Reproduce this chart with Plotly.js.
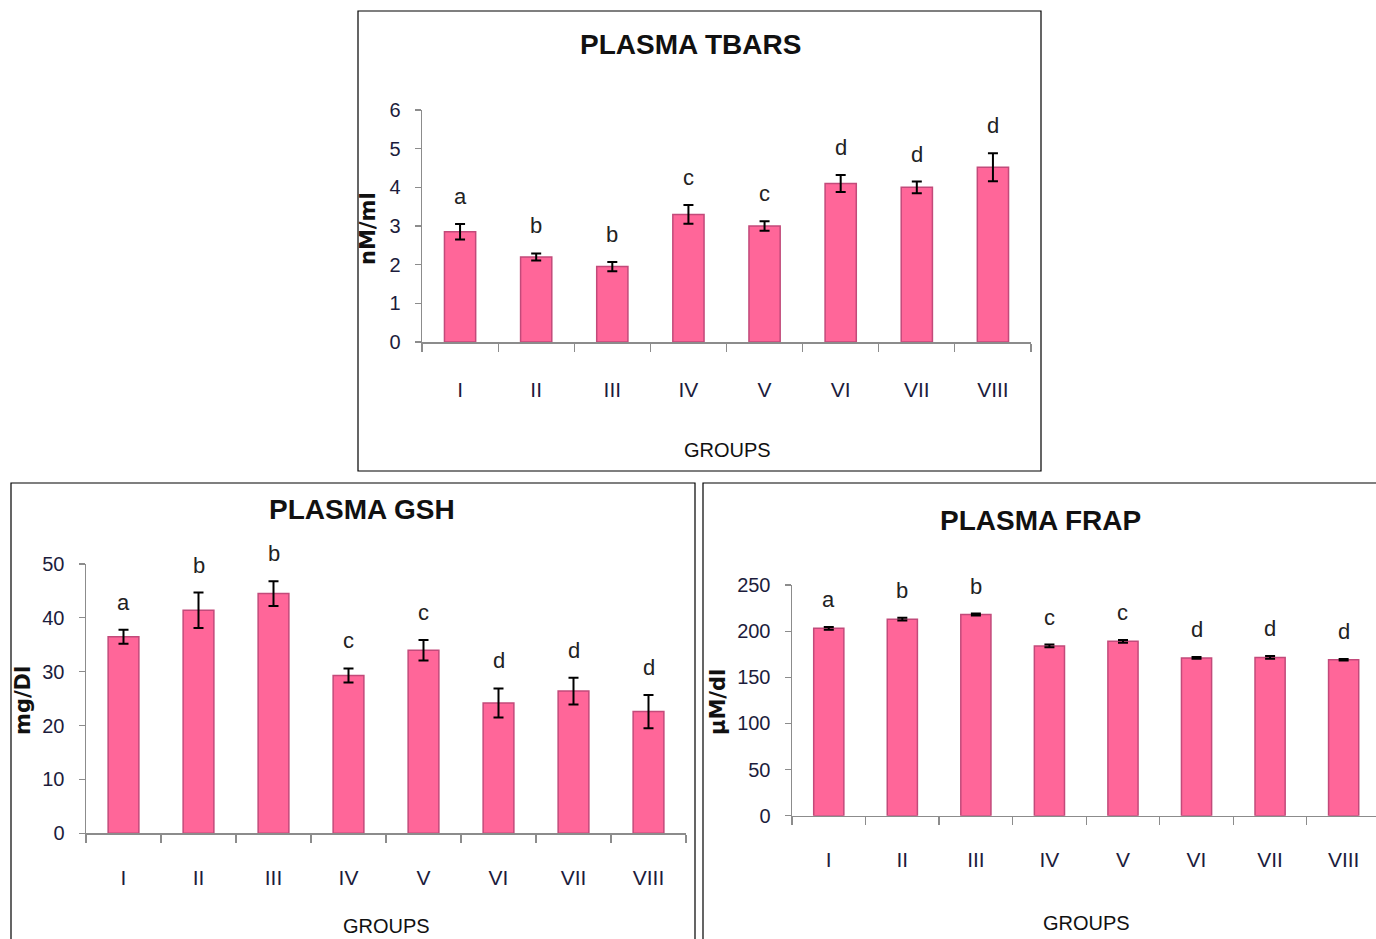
<!DOCTYPE html>
<html>
<head>
<meta charset="utf-8">
<script src="https://cdn.plot.ly/plotly-3.0.1.min.js"></script>
<style>html,body{margin:0;padding:0;background:#fff;}#chart{width:1376px;height:939px;}</style>
</head>
<body>
<div id="chart"></div>
<script>
const groups = ['I','II','III','IV','V','VI','VII','VIII'];

const tbarsMean = [2.85, 2.2, 1.95, 3.3, 3.0, 4.1, 4.0, 4.52];
const tbarsErr = [0.2, 0.09, 0.12, 0.24, 0.12, 0.22, 0.15, 0.36];
const tbarsLetters = ['a','b','b','c','c','d','d','d'];

const gshMean = [36.5, 41.4, 44.5, 29.3, 34.0, 24.2, 26.4, 22.6];
const gshErr = [1.3, 3.3, 2.3, 1.3, 1.9, 2.7, 2.5, 3.1];
const gshLetters = ['a','b','b','c','c','d','d','d'];

const frapMean = [203, 213, 218, 184, 189, 171, 171.5, 169];
const frapErr = [1.5, 1.5, 1.0, 1.5, 1.5, 1.0, 1.5, 0.8];
const frapLetters = ['a','b','b','c','c','d','d','d'];

const W = 1376, H = 939;
const px = v => v / W;
const py = v => 1 - v / H;

const font = 'Liberation Sans, Arial, sans-serif';
const tickColor = '#1c1c3c';
const barColor = '#ff6699';
const barLine = '#c24a7a';

function barTrace(y, err, xa, ya) {
  return {
    type: 'bar', x: groups, y: y, xaxis: xa, yaxis: ya, width: 0.41,
    marker: {color: barColor, line: {color: barLine, width: 1.5}},
    error_y: {type: 'data', array: err, visible: true, color: '#000', thickness: 2, width: 5},
    hoverinfo: 'x+y', showlegend: false
  };
}

const data = [
  barTrace(tbarsMean, tbarsErr, 'x', 'y'),
  barTrace(gshMean, gshErr, 'x2', 'y2'),
  barTrace(frapMean, frapErr, 'x3', 'y3')
];

function xAxis(domain, range, standoff, anchor) {
  return {
    domain: domain, range: range, type: 'category', anchor: anchor,
    showline: true, linecolor: '#8c8c8c', linewidth: 1.5,
    ticks: 'outside', tickson: 'boundaries', ticklen: 8, tickcolor: '#8c8c8c', tickwidth: 1.2,
    ticklabelstandoff: standoff,
    tickfont: {family: font, size: 21, color: tickColor},
    showgrid: false, zeroline: false, fixedrange: true
  };
}
function yAxis(domain, range, dtick, anchor) {
  return {
    domain: domain, range: range, anchor: anchor, dtick: dtick,
    showline: true, linecolor: '#8c8c8c', linewidth: 1.5,
    ticks: 'outside', ticklen: 6, tickcolor: '#8c8c8c', tickwidth: 1.2,
    ticklabelstandoff: 10,
    tickfont: {family: font, size: 20, color: tickColor},
    showgrid: false, zeroline: false, fixedrange: true
  };
}

const annotations = [];
function letters(lbls, mean, err, xa, ya) {
  lbls.forEach((t, i) => {
    annotations.push({
      xref: xa, yref: ya, x: groups[i], y: mean[i] + err[i], text: t,
      showarrow: false, yanchor: 'bottom', yshift: 13,
      font: {family: font, size: 22, color: '#222'}
    });
  });
}
letters(tbarsLetters, tbarsMean, tbarsErr, 'x', 'y');
letters(gshLetters, gshMean, gshErr, 'x2', 'y2');
letters(frapLetters, frapMean, frapErr, 'x3', 'y3');

function paperText(text, x, y, size, bold, angle, family) {
  annotations.push({
    xref: 'paper', yref: 'paper', x: px(x), y: py(y), text: bold ? '<b>' + text + '</b>' : text,
    showarrow: false, xanchor: 'center', yanchor: 'middle', textangle: angle || 0,
    font: {family: family || font, size: size, color: '#111'}
  });
}
paperText('PLASMA TBARS', 690, 44, 28, true);
paperText('PLASMA GSH', 362, 509, 28, true);
paperText('PLASMA FRAP', 1040, 520, 28, true);
paperText('GROUPS', 727, 450, 20, false);
paperText('GROUPS', 386, 926, 20, false);
paperText('GROUPS', 1086, 923, 20, false);
paperText('nM/ml', 368, 228, 21, true, -90, 'DejaVu Sans, sans-serif');
paperText('mg/Dl', 23, 700, 21, true, -90, 'DejaVu Sans, sans-serif');
paperText('µM/dl', 718, 702, 21, true, -90, 'DejaVu Sans, sans-serif');

const border = (x0, y0, x1, y1) => ({
  type: 'rect', xref: 'paper', yref: 'paper',
  x0: px(x0), x1: px(x1), y0: py(y1), y1: py(y0),
  line: {color: '#000', width: 1.2}, fillcolor: 'rgba(0,0,0,0)'
});

const layout = {
  width: W, height: H,
  margin: {l: 0, r: 0, t: 0, b: 0},
  paper_bgcolor: '#fff', plot_bgcolor: 'rgba(0,0,0,0)',
  showlegend: false,
  xaxis: xAxis([px(422), px(1031)], [-0.5, 7.5], 28, 'y'),
  yaxis: yAxis([py(342), py(110)], [0, 6], 1, 'x'),
  xaxis2: xAxis([px(86), px(686)], [-0.5, 7.5], 25, 'y2'),
  yaxis2: yAxis([py(833.3), py(564)], [0, 50], 10, 'x2'),
  xaxis3: xAxis([px(792), 1], [-0.5, 7.44], 25, 'y3'),
  yaxis3: yAxis([py(815.7), py(585)], [0, 250], 50, 'x3'),
  annotations: annotations,
  shapes: [
    border(358, 11, 1041, 471),
    border(11, 483, 695, 945),
    border(703, 483, 1385, 945)
  ]
};

Plotly.newPlot('chart', data, layout, {displayModeBar: false, staticPlot: true});
</script>
</body>
</html>
